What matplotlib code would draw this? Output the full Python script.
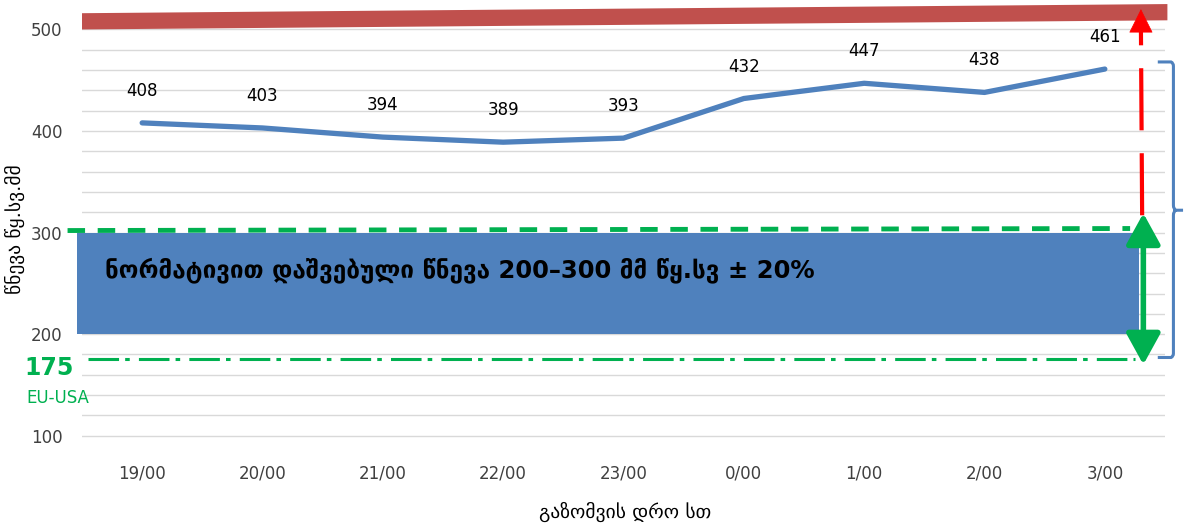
import numpy as np
import matplotlib
matplotlib.use("Agg")
import matplotlib.pyplot as plt
from matplotlib.patches import FancyArrowPatch, PathPatch
from matplotlib.path import Path

plt.rcParams['font.family'] = ['DejaVu Sans']

# მონაცემები
times = ['19/00', '20/00', '21/00', '22/00', '23/00', '0/00', '1/00', '2/00', '3/00']
pressure = [408, 403, 394, 389, 393, 432, 447, 438, 461]
norm_low, norm_high = 200, 300
eu_usa = 175
y_ticks = [100, 200, 300, 400, 500]

BLUE = '#4F81BD'
GREEN = '#00B050'
RED = '#C0504D'
TXT = '#404040'

fig = plt.figure(figsize=(11.84, 5.24), dpi=100)
ax = fig.add_axes([82 / 1184, 68 / 524, (1165 - 82) / 1184, 456 / 524])
x = np.arange(len(times))
ax.set_xlim(-0.5, len(times) - 0.5)
ax.set_ylim(80, 529)

# ბადე
ax.set_yticks(y_ticks)
ax.set_yticks(np.arange(120, 520, 20), minor=True)
ax.grid(axis='y', which='both', color='#D9D9D9', lw=1.0, zorder=0)
ax.tick_params(axis='y', which='both', length=0, pad=14, labelsize=12, labelcolor=TXT)
ax.set_xticks(x)
ax.set_xticklabels(times)
ax.tick_params(axis='x', length=0, pad=6, labelsize=12, labelcolor=TXT)
for s in ax.spines.values():
    s.set_visible(False)

# ზედა წითელი ზოლი
ax.fill([-0.5, 8.52, 8.52, -0.5], [500, 509, 525, 516], color=RED, clip_on=False, zorder=3, lw=0)

# ნორმის ზოლი
ax.fill_between([-0.54, 8.28], norm_low, norm_high, color=BLUE, lw=0, zorder=2, clip_on=False)
ax.text(-0.31, 263, 'ნორმატივით დაშვებული წნევა 200–300 მმ წყ.სვ ± 20%',
        fontsize=17.5, fontweight='bold', color='black', va='center', ha='left', zorder=5)

# მწვანე ხაზები
ax.plot([-0.62, 8.21], [norm_high + 2, norm_high + 4], color=GREEN, lw=3.5,
        dashes=(3.6, 2.6), clip_on=False, zorder=3)
ax.plot([-0.45, 8.25], [eu_usa + 1, eu_usa + 1], color=GREEN, lw=2.2,
        dashes=(10, 2, 1.5, 3), clip_on=False, zorder=3)
ax.text(-0.77, 167, str(eu_usa), color=GREEN, fontsize=17, fontweight='bold',
        ha='center', va='center', clip_on=False)
ax.text(-0.70, 137, 'EU-USA', color=GREEN, fontsize=12, ha='center', va='center', clip_on=False)

# წნევის მრუდი
ax.plot(x, pressure, color=BLUE, lw=3.8, solid_capstyle='round', zorder=4)
for xi, v in zip(x, pressure):
    ax.annotate(str(v), (xi, v), xytext=(0, 23), textcoords='offset points',
                ha='center', va='center', fontsize=12, color='black')

# ისრები
ax.plot([8.31, 8.30], [317, 500], color='red', lw=3, dashes=(14.9, 5.5), zorder=6, clip_on=False)
ax.add_patch(FancyArrowPatch((8.30, 496), (8.30, 520), arrowstyle='-|>,head_length=1.0,head_width=0.5',
                             mutation_scale=16, color='red', lw=0.5, zorder=6, clip_on=False,
                             shrinkA=0, shrinkB=0))
ax.add_patch(FancyArrowPatch((8.32, 170), (8.32, 319), arrowstyle='<|-|>,head_length=1.0,head_width=0.55',
                             mutation_scale=19, color=GREEN, lw=4, zorder=7, clip_on=False,
                             shrinkA=0, shrinkB=0))

# ფიგურული ფრჩხილი
bx0, bx1, bx2 = 8.44, 8.57, 8.65
yt, ym, yb = 468, 322, 177
verts = [(bx0, yt), (bx1 - 0.02, yt), (bx1, yt - 1), (bx1, yt - 4),
         (bx1, ym + 5), (bx1, ym + 1), (bx1 + 0.02, ym), (bx2, ym),
         (bx1 + 0.02, ym), (bx1, ym - 1), (bx1, ym - 5),
         (bx1, yb + 4), (bx1, yb + 1), (bx1 - 0.02, yb), (bx0, yb)]
codes = [Path.MOVETO, Path.LINETO, Path.CURVE3, Path.CURVE3,
         Path.LINETO, Path.CURVE3, Path.CURVE3, Path.LINETO,
         Path.MOVETO, Path.CURVE3, Path.CURVE3,
         Path.LINETO, Path.CURVE3, Path.CURVE3, Path.LINETO]
ax.add_patch(PathPatch(Path(verts, codes), fill=False, edgecolor=BLUE, lw=2.2, clip_on=False, zorder=5))

fig.text(15 / 1184, 1 - 229 / 524, 'წნევა წყ.სვ.მმ', rotation=90, ha='center', va='center',
         fontsize=14, color='black')
fig.text(625 / 1184, 1 - 512 / 524, 'გაზომვის დრო სთ', ha='center', va='center',
         fontsize=14, color='black')

fig.savefig('out.png', dpi=100)
